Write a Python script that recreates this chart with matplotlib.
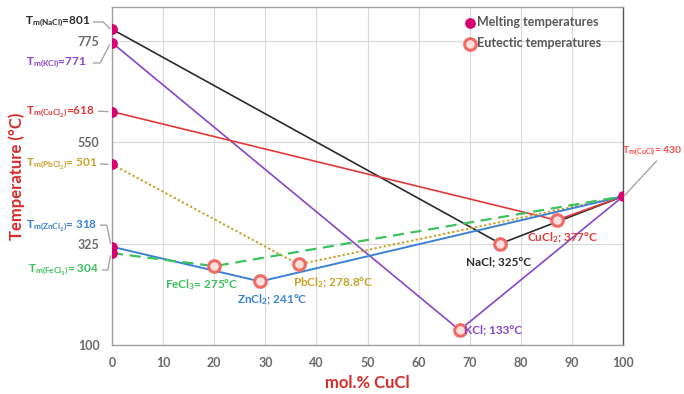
import matplotlib
matplotlib.use("Agg")
import matplotlib.pyplot as plt

plt.rcParams['font.family'] = ['Lato', 'DejaVu Sans']
plt.rcParams['mathtext.fontset'] = 'custom'
plt.rcParams['mathtext.rm'] = 'Lato'
plt.rcParams['mathtext.bf'] = 'Lato:bold'
plt.rcParams['mathtext.it'] = 'Lato:italic'

# Data
salts = ['NaCl', 'KCl', 'CuCl2', 'PbCl2', 'ZnCl2', 'FeCl3']
melt_salt = [801, 771, 618, 501, 318, 304]
eut_x = [76, 68, 87, 36.5, 29, 20]
eut_T = [325, 133, 377, 278.8, 241, 275]
melt_cucl = 430
colors = ['#2b2b2b', '#8a45c8', '#e03a3a', '#c9a227', '#3c82d2', '#3cc15e']
styles = ['-', '-', '-', ':', '-', '--']
eut_labels = ['NaCl; 325°C', 'KCl; 133°C', r'CuCl$_\mathbf{2}$; 377°C',
              r'PbCl$_\mathbf{2}$; 278.8°C', r'ZnCl$_\mathbf{2}$; 241°C',
              r'FeCl$_\mathbf{3}$= 275°C']
melt_labels = [r'T$_\mathbf{m(NaCl)}$=801', r'T$_\mathbf{m(KCl)}$=771',
               r'T$_\mathbf{m(CuCl_2)}$=618', r'T$_\mathbf{m(PbCl_2)}$= 501',
               r'T$_\mathbf{m(ZnCl_2)}$= 318', r'T$_\mathbf{m(FeCl_3)}$= 304']
xticks = list(range(0, 101, 10))
yticks = [100, 325, 550, 775]

fig = plt.figure(figsize=(6.84, 3.94), dpi=100)
ax = fig.add_axes([0.1637, 0.1244, 0.911 - 0.1637, 0.982 - 0.1244])
ax.set_xlim(0, 100)
ax.set_ylim(100, 850)
ax.set_xticks(xticks)
ax.set_yticks(yticks)
ax.grid(True, color='#d9d9d9', lw=0.8)
ax.set_axisbelow(True)
for s in ax.spines.values():
    s.set_color('#a0a0a0')
    s.set_linewidth(1.0)
ax.spines['right'].set_color('#555555')
ax.tick_params(axis='x', length=0, labelsize=9, labelcolor='#6a6a6a', pad=9)
ax.tick_params(axis='y', length=0, labelsize=9, labelcolor='#6a6a6a', pad=9)
for lab in ax.get_xticklabels() + ax.get_yticklabels():
    lab.set_fontweight('bold')

lw = [1.2, 1.2, 1.2, 1.4, 1.4, 1.6]
for i in range(len(salts)):
    ax.plot([0, eut_x[i], 100], [melt_salt[i], eut_T[i], melt_cucl],
            color=colors[i], ls=styles[i], lw=lw[i], zorder=3,
            dashes=(5, 3) if styles[i] == '--' else ((1.2, 1.2) if styles[i] == ':' else (None, None)))

ax.scatter([0] * len(salts) + [100], melt_salt + [melt_cucl], s=45,
           color='#d6006e', zorder=5, label='Melting temperatures')
ax.scatter(eut_x, eut_T, s=70, facecolor='#fbe0de', edgecolor='#f06a66',
           lw=2.2, zorder=5, label='Eutectic temperatures')

leg = ax.legend(loc='upper right', frameon=False, fontsize=9, handletextpad=0.1,
                handlelength=1.0, borderaxespad=0.3, labelspacing=0.75,
                bbox_to_anchor=(0.975, 1.0))
for t in leg.get_texts():
    t.set_color('#595959')
    t.set_fontweight('bold')

# Eutectic labels (data coords)
eut_pos = [(69.3, 284), (68.9, 133), (81.2, 338), (35.4, 238), (24.5, 200), (10.4, 235)]
for i in range(len(salts)):
    ax.text(eut_pos[i][0], eut_pos[i][1], eut_labels[i], color=colors[i],
            fontsize=8.5, fontweight='bold', ha='left', va='center', zorder=6)

# Melting labels with leaders (data coords, outside axes)
lab_y = [817, 726, 619, 502, 366, 266.5]
lab_x = [-4.3, -4.9, -3.3, -2.9, -2.9, -2.5]
lead_pts = [
    [(-3.6, 817), (-1.7, 817), (-0.4, 802)],
    [(-3.6, 726), (-2.3, 726), (-0.5, 766)],
    [(-2.6, 619), (-0.8, 618)],
    [(-2.2, 502), (-0.8, 501)],
    [(-2.2, 366), (-1.0, 366), (-0.3, 326)],
    [(-1.8, 266.5), (-0.8, 266.5), (-0.3, 298)],
]
for i in range(len(salts)):
    ax.text(lab_x[i], lab_y[i], melt_labels[i], color=colors[i], fontsize=8.5,
            fontweight='bold', ha='right', va='center', clip_on=False)
    xs = [p[0] for p in lead_pts[i]]
    ys = [p[1] for p in lead_pts[i]]
    ax.plot(xs, ys, color='#a6a6a6', lw=1.0, clip_on=False, zorder=4)

ax.text(99.8, 530, r'T$_\mathbf{m(CuCl)}$= 430', color='#ff4a4a', fontsize=7.5,
        fontweight='bold', ha='left', va='center', clip_on=False)
ax.plot([106.5, 100.3], [508, 432], color='#a6a6a6', lw=1.0, clip_on=False, zorder=4)

ax.set_xlabel('mol.% CuCl', color='#d92b2b', fontsize=12, fontweight='bold')
ax.set_ylabel('Temperature (°C)', color='#d92b2b', fontsize=12, fontweight='bold')
ax.yaxis.set_label_coords(-0.17, 0.5)
ax.xaxis.set_label_coords(0.5, -0.09)

fig.savefig('out.png', dpi=100)
